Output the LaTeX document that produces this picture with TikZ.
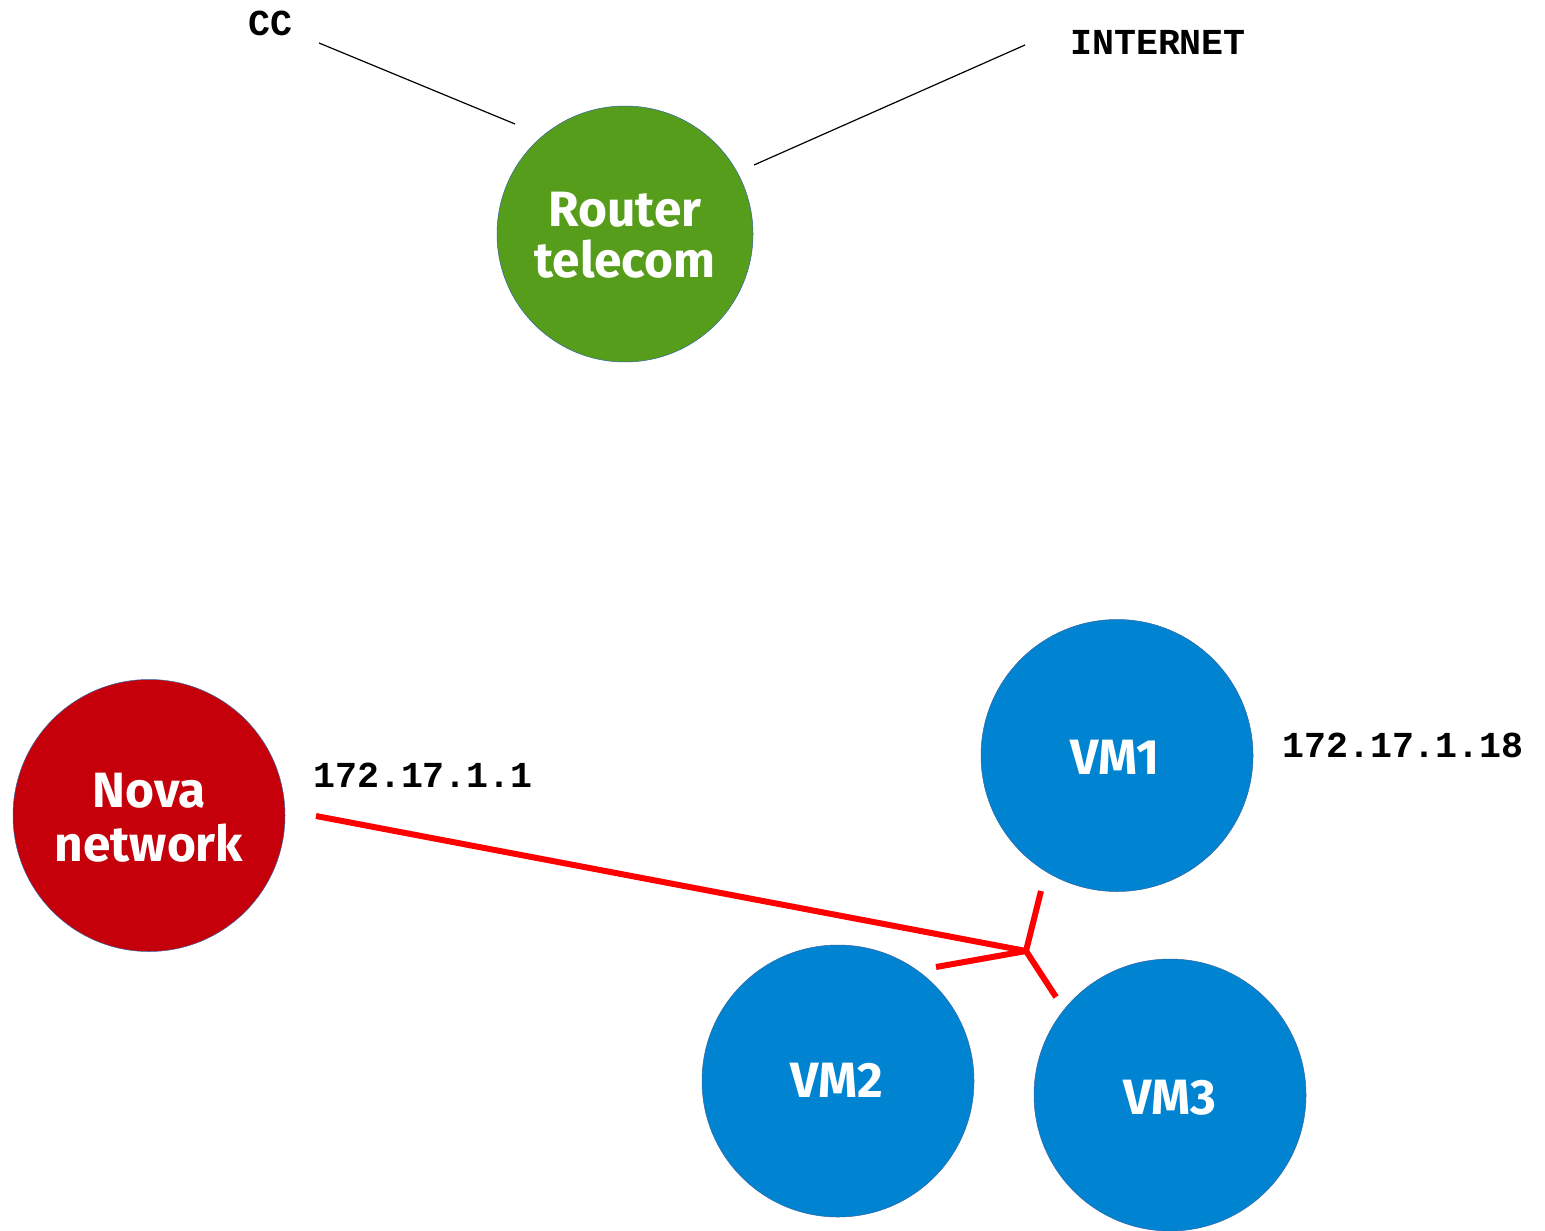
\documentclass[tikz,border=0pt]{standalone}
\usepackage{fontspec}
\newfontfamily\bubfont{Fira Sans}
\newfontfamily\labfont{Liberation Mono}
\definecolor{rgreen}{HTML}{579D1C}
\definecolor{nred}{HTML}{C5000B}
\definecolor{vmblue}{HTML}{0084D1}
\definecolor{edgeblue}{HTML}{3465A4}
\definecolor{wire}{HTML}{FF0000}
\tikzset{
  bubble/.style={circle, minimum size=136pt, inner sep=0pt, draw=edgeblue, line width=0.25pt},
  bubtext/.style={anchor=base, inner sep=0pt, text=white, font=\bubfont\bfseries\fontsize{24.8}{25}\selectfont},
  iplabel/.style={anchor=base, inner sep=0pt, font=\labfont\bfseries\fontsize{18.3}{20}\selectfont},
  thinline/.style={draw=black, line width=0.6pt},
  redwire/.style={draw=wire, line width=3pt, line cap=butt, line join=miter},
}
\begin{document}
\begin{tikzpicture}[x=0.5pt, y=-0.5pt]
\useasboundingbox (0,0) rectangle (1545,1230);
% circles
\node[bubble, fill=rgreen, minimum size=128pt] (router) at (625,234) {};
\node[bubble, fill=nred] (nova) at (149,815.5) {};
\node[bubble, fill=vmblue] (vm1) at (1117,755.5) {};
\node[bubble, fill=vmblue] (vm2) at (838,1081) {};
\node[bubble, fill=vmblue] (vm3) at (1170,1095) {};
% circle texts
\node[bubtext] (routerA) at (625,227) {Router};
\node[bubtext] (routerB) at (625,277) {telecom};
\node[bubtext] (novaA) at (149,807) {Nova};
\node[bubtext] (novaB) at (149,861) {network};
\node[bubtext] (vm1t) at (1115,774) {VM1};
\node[bubtext] (vm2t) at (837,1097) {VM2};
\node[bubtext] (vm3t) at (1170,1114) {VM3};
% labels
\node[iplabel] (cc) at (270,36) {CC};
\node[iplabel] (inet) at (1158,55) {INTERNET};
\node[iplabel] (ipnova) at (423,787) {172.17.1.1};
\node[iplabel] (ipvm1) at (1403,757) {172.17.1.18};
% thin black lines
\coordinate (ccA) at (319,43);
\coordinate (ccB) at (515,124);
\coordinate (inA) at (1025,45);
\coordinate (inB) at (754,165);
\draw[thinline] (ccA) -- (ccB);
\draw[thinline] (inA) -- (inB);
% red wiring
\coordinate (nw) at (316,816);
\coordinate (hub) at (1026,951);
\coordinate (w1) at (1041,891);
\coordinate (w2) at (936,967);
\coordinate (w3) at (1056,997);
\draw[redwire] (nw) -- (hub);
\draw[redwire] (w1) -- (hub);
\draw[redwire] (w2) -- (hub) -- (w3);
\end{tikzpicture}
\end{document}
